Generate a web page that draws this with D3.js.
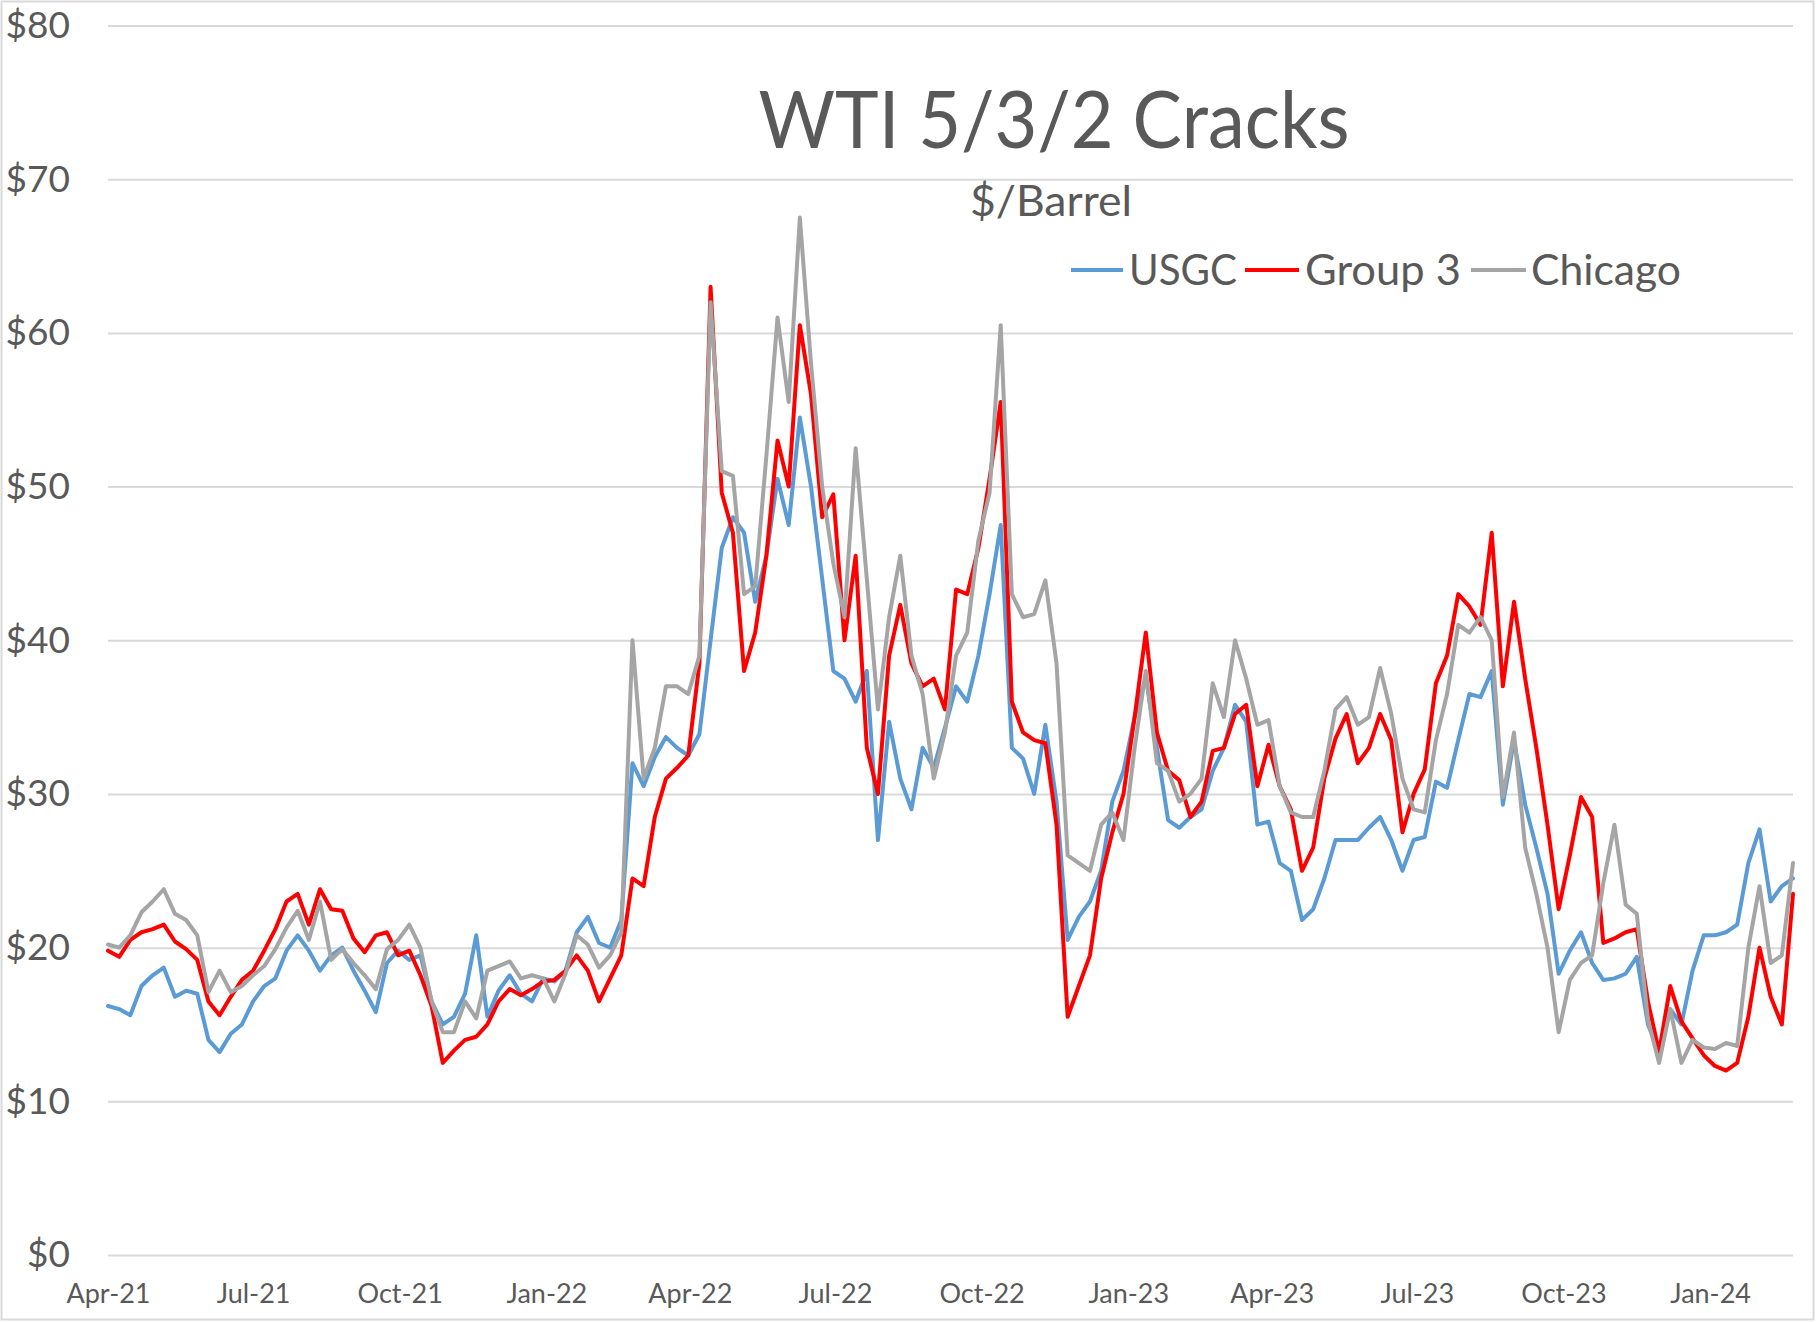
<!DOCTYPE html>
<html><head><meta charset="utf-8">
<script src="https://cdn.jsdelivr.net/npm/d3@7"></script>
<style>html,body{margin:0;padding:0;background:#fff;} svg{display:block;}</style>
</head><body>
<svg id="chart" width="1816" height="1322"></svg>
<script>
// Weekly observations starting 1 Apr 2021
const startDate = new Date(2021, 3, 1);
const weekStepDays = 7;

const usgc = [
 16.2,16.0,15.6,17.5,18.2,18.7,16.8,17.2,17.0,14.0,
 13.2,14.4,15.0,16.5,17.5,18.0,19.8,20.8,19.8,18.5,
 19.5,20.0,18.5,17.2,15.8,19.0,19.8,19.2,19.5,16.5,
 15.0,15.5,17.0,20.8,15.5,17.2,18.2,17.0,16.5,18.0,
 17.8,18.5,21.0,22.0,20.3,20.0,21.8,32.0,30.5,32.4,
 33.7,33.0,32.5,33.9,40.0,46.0,48.0,47.0,42.5,45.5,
 50.5,47.5,54.5,50.0,44.0,38.0,37.5,36.0,38.0,27.0,
 34.7,31.0,29.0,33.0,31.7,34.3,37.0,36.0,39.0,43.0,
 47.5,33.0,32.3,30.0,34.5,29.5,20.5,22.0,23.0,25.0,
 29.5,31.5,35.0,37.6,33.0,28.3,27.8,28.5,29.0,31.5,
 33.0,35.8,34.7,28.0,28.2,25.5,25.0,21.8,22.5,24.5,
 27.0,27.0,27.0,27.8,28.5,27.0,25.0,27.0,27.2,30.8,
 30.4,33.5,36.5,36.3,38.0,29.3,33.5,29.3,26.5,23.5,
 18.3,19.8,21.0,19.0,17.9,18.0,18.3,19.4,15.0,13.2,
 16.0,15.0,18.5,20.8,20.8,21.0,21.5,25.5,27.7,23.0,24.0,24.5
];
const group3 = [
 19.8,19.4,20.5,21.0,21.2,21.5,20.4,19.9,19.2,16.5,
 15.6,16.8,17.9,18.5,19.8,21.2,23.0,23.5,21.5,23.8,
 22.5,22.4,20.6,19.7,20.8,21.0,19.5,19.8,18.2,16.2,
 12.5,13.3,14.0,14.2,15.0,16.5,17.3,16.9,17.3,17.8,
 17.9,18.5,19.5,18.5,16.5,18.0,19.5,24.5,24.0,28.5,
 31.0,31.7,32.5,38.5,63.0,49.6,47.0,38.0,40.5,45.5,
 53.0,50.0,60.5,56.0,48.0,49.5,40.0,45.5,33.0,30.0,
 39.0,42.3,38.5,37.0,37.5,35.5,43.3,43.0,46.0,50.5,
 55.5,36.0,34.0,33.5,33.3,28.0,15.5,17.5,19.5,24.5,
 27.5,30.0,35.0,40.5,34.0,31.5,30.9,28.5,29.5,32.8,
 33.0,35.2,35.8,30.5,33.2,30.5,29.0,25.0,26.5,31.0,
 33.6,35.2,32.0,33.0,35.2,33.5,27.5,30.0,31.6,37.2,
 39.0,43.0,42.2,41.0,47.0,37.0,42.5,37.5,33.0,28.0,
 22.5,26.0,29.8,28.5,20.3,20.6,21.0,21.2,16.5,13.2,
 17.5,15.2,14.1,13.0,12.3,12.0,12.5,15.5,20.0,16.8,15.0,23.5
];
const chicago = [
 20.2,20.0,20.8,22.3,23.0,23.8,22.2,21.8,20.8,17.1,
 18.5,17.1,17.5,18.2,18.8,19.9,21.3,22.4,20.5,23.0,
 19.2,19.9,19.0,18.2,17.3,19.9,20.5,21.5,20.0,16.5,
 14.5,14.5,16.5,15.4,18.5,18.8,19.1,18.0,18.2,18.0,
 16.5,18.3,20.8,20.2,18.7,19.5,21.0,40.0,31.0,33.0,
 37.0,37.0,36.5,39.0,62.0,51.0,50.7,43.0,43.5,52.0,
 61.0,55.5,67.5,58.0,50.0,45.0,41.5,52.5,44.0,35.5,
 41.5,45.5,39.0,36.5,31.0,34.0,39.0,40.5,46.5,49.6,
 60.5,43.0,41.5,41.7,43.9,38.5,26.0,25.5,25.0,28.0,
 28.8,27.0,33.0,38.0,32.0,31.5,29.5,30.0,31.0,37.2,
 35.0,40.0,37.5,34.5,34.8,30.5,28.8,28.5,28.5,31.5,
 35.5,36.3,34.5,35.0,38.2,35.2,31.0,29.0,28.8,33.5,
 36.5,41.0,40.5,41.5,40.0,29.8,34.0,26.5,23.5,20.0,
 14.5,17.9,19.0,19.5,24.2,28.0,22.8,22.2,15.3,12.5,
 16.0,12.5,14.0,13.5,13.4,13.8,13.6,20.0,24.0,19.0,19.5,25.5
];

const seriesNames = ["USGC", "Group 3", "Chicago"];
const seriesColors = ["#5B9BD5", "#FF0000", "#A5A5A5"];
const yTicks = [0, 10, 20, 30, 40, 50, 60, 70, 80];
const xTickDates = ["2021-04-01","2021-07-01","2021-10-01","2022-01-01","2022-04-01","2022-07-01",
                    "2022-10-01","2023-01-01","2023-04-01","2023-07-01","2023-10-01","2024-01-01"];
const xTickLabels = ["Apr-21","Jul-21","Oct-21","Jan-22","Apr-22","Jul-22",
                     "Oct-22","Jan-23","Apr-23","Jul-23","Oct-23","Jan-24"];
const titleText = "WTI 5/3/2 Cracks";
const subtitleText = "$/Barrel";

const svg = d3.select("#chart");
const W = 1816, H = 1322;
const font = "Lato, 'Open Sans', 'DejaVu Sans', sans-serif";
const textColor = "#595959";

// outer border
svg.append("rect").attr("x", 1.5).attr("y", 1.5).attr("width", W - 4).attr("height", H - 4)
  .attr("fill", "#fff").attr("stroke", "#d9d9d9").attr("stroke-width", 2);

const parse = d3.timeParse("%Y-%m-%d");
const dates = usgc.map((_, i) => d3.timeDay.offset(startDate, i * weekStepDays));
const x = d3.scaleTime().domain([dates[0], dates[dates.length - 1]]).range([108, 1793]);
const y = d3.scaleLinear().domain([0, 80]).range([1255, 25.5]);

// gridlines
const grid = svg.append("g").attr("transform", "translate(108,0)")
  .call(d3.axisLeft(y).tickValues(yTicks).tickSize(-(1793 - 108)).tickFormat(""));
grid.select(".domain").remove();
grid.selectAll("line").attr("stroke", "#d9d9d9").attr("stroke-width", 2);

// y labels
const yAx = svg.append("g").attr("transform", "translate(108,0)")
  .call(d3.axisLeft(y).tickValues(yTicks).tickSize(0).tickPadding(38).tickFormat(d => "$" + d));
yAx.select(".domain").remove();
yAx.selectAll("text").attr("font-family", font).attr("font-size", 37).attr("fill", textColor);

// x labels
const xAx = svg.append("g").attr("transform", "translate(0,1255)")
  .call(d3.axisBottom(x).tickValues(xTickDates.map(parse)).tickSize(0).tickPadding(29)
    .tickFormat((d, i) => xTickLabels[i]));
xAx.select(".domain").remove();
xAx.selectAll("text").attr("font-family", font).attr("font-size", 27).attr("fill", textColor);

// lines
const allSeries = [usgc, group3, chicago];
const line = d3.line().x((d, i) => x(dates[i])).y(d => y(d)).curve(d3.curveLinear);
allSeries.forEach((s, k) => {
  svg.append("path").datum(s).attr("d", line).attr("fill", "none")
    .attr("stroke", seriesColors[k]).attr("stroke-width", 4)
    .attr("stroke-linejoin", "round").attr("stroke-linecap", "round");
});

// title
svg.append("text").attr("x", 1054).attr("y", 148).attr("text-anchor", "middle")
  .attr("font-family", font).attr("font-size", 80).attr("fill", textColor)
  .attr("textLength", 591).attr("lengthAdjust", "spacingAndGlyphs").text(titleText);
svg.append("text").attr("x", 1051).attr("y", 216).attr("text-anchor", "middle")
  .attr("font-family", font).attr("font-size", 42).attr("fill", textColor)
  .attr("textLength", 162).attr("lengthAdjust", "spacingAndGlyphs").text(subtitleText);

// legend
const legendItems = [
  {x1: 1071, x2: 1123, tx: 1129, tw: 108},
  {x1: 1245, x2: 1299, tx: 1305, tw: 156},
  {x1: 1471, x2: 1526, tx: 1531, tw: 150}
];
const lg = svg.append("g");
legendItems.forEach((it, k) => {
  lg.append("line").attr("x1", it.x1).attr("x2", it.x2).attr("y1", 270).attr("y2", 270)
    .attr("stroke", seriesColors[k]).attr("stroke-width", 4);
  lg.append("text").attr("x", it.tx).attr("y", 285).attr("font-family", font)
    .attr("font-size", 42).attr("fill", textColor)
    .attr("textLength", it.tw).attr("lengthAdjust", "spacingAndGlyphs").text(seriesNames[k]);
});
</script>
</body></html>
